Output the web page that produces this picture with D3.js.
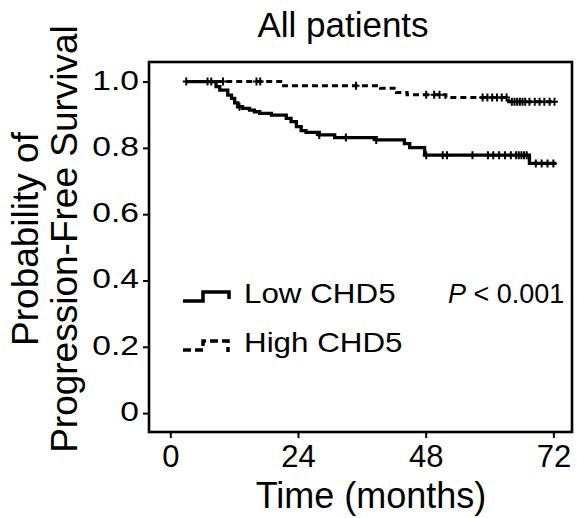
<!DOCTYPE html>
<html>
<head>
<meta charset="utf-8">
<script src="https://d3js.org/d3.v7.min.js"></script>
<style>
  body { margin: 0; background: #fff; }
  text { font-family: "Liberation Sans", Arial, sans-serif; fill: #000; }
</style>
</head>
<body>
<div id="viz-container"></div>
<script>
// Kaplan-Meier steps (time in months, survival after the step)
const lowTimes = [3, 8.6, 9.3, 10.8, 11.5, 12.1, 12.7, 13.6, 14.9, 15.8, 16.8, 19, 21.8, 22.7, 23.7, 24.6, 25.5, 28, 30.9, 38.7, 44, 45, 47.8, 67.5];
const lowSurv = [1.0, 0.985, 0.974, 0.959, 0.949, 0.936, 0.924, 0.919, 0.914, 0.909, 0.904, 0.899, 0.889, 0.879, 0.864, 0.852, 0.847, 0.839, 0.831, 0.824, 0.813, 0.801, 0.778, 0.753];
const lowCensor = [13, 28, 33, 38.7, 48.1, 51.2, 52, 56.8, 59.7, 60.7, 61.8, 62.9, 64, 65, 65.5, 66, 66.5, 67, 68.7, 69.8, 70.9, 72];

const highTimes = [3, 21.3, 39.5, 42.5, 44.5, 51.8, 63.6];
const highSurv = [1.0, 0.987, 0.98, 0.967, 0.96, 0.952, 0.939];
const highCensor = [3, 7, 7.7, 9.9, 16.2, 16.9, 34.9, 48.1, 49.6, 50.6, 58.7, 59.6, 60.5, 61.4, 62.3, 63.2,
  64.2, 64.7, 65.2, 65.7, 66.2, 66.7, 67.5, 68.5, 69.4, 70.3, 71.3, 72.2];

const endTime = 72.5;
const xTicks = [0, 24, 48, 72];
const yTicks = [0, 0.2, 0.4, 0.6, 0.8, 1.0];
const yTickLabels = ["0", "0.2", "0.4", "0.6", "0.8", "1.0"];

const width = 577, height = 518;
const svg = d3.select("#viz-container").append("svg")
  .attr("width", width)
  .attr("height", height);

const x = d3.scaleLinear().domain([-4, 75.5]).range([149, 572]);
const y = d3.scaleLinear().domain([-0.057, 1.059]).range([432, 62]);

function stepPoints(times, surv) {
  const pts = times.map((t, i) => [t, surv[i]]);
  pts.push([endTime, surv[surv.length - 1]]);
  return pts;
}
function survAt(times, surv, t) {
  let s = surv[0];
  times.forEach((tt, i) => { if (tt <= t) s = surv[i]; });
  return s;
}

const line = d3.line()
  .x(d => x(d[0]))
  .y(d => y(d[1]))
  .curve(d3.curveStepAfter);

// curves
svg.append("path")
  .attr("d", line(stepPoints(highTimes, highSurv)))
  .attr("fill", "none")
  .attr("stroke", "#000")
  .attr("stroke-width", 3)
  .attr("stroke-dasharray", "6,4");

svg.append("path")
  .attr("d", line(stepPoints(lowTimes, lowSurv)))
  .attr("fill", "none")
  .attr("stroke", "#000")
  .attr("stroke-width", 3.3);

// censor marks
function drawCensor(times, surv, cens) {
  svg.append("g").selectAll("path")
    .data(cens)
    .enter()
    .append("path")
    .attr("d", t => {
      const cx = x(t), cy = y(survAt(times, surv, t));
      return `M${cx},${cy - 4}V${cy + 4}M${cx - 3.5},${cy}H${cx + 3.5}`;
    })
    .attr("stroke", "#000")
    .attr("stroke-width", 2);
}
drawCensor(highTimes, highSurv, highCensor);
drawCensor(lowTimes, lowSurv, lowCensor);

// frame
svg.append("rect")
  .attr("x", 149).attr("y", 62)
  .attr("width", 572 - 149).attr("height", 432 - 62)
  .attr("fill", "none")
  .attr("stroke", "#000")
  .attr("stroke-width", 2.6);

// x axis
const xAxis = svg.append("g").attr("transform", "translate(0,432)")
  .call(d3.axisBottom(x).tickValues(xTicks).tickSize(6).tickSizeOuter(0));
xAxis.select(".domain").remove();
xAxis.selectAll(".tick line").attr("stroke-width", 2);
xAxis.selectAll(".tick text")
  .attr("y", 35)
  .attr("dy", 0)
  .style("font-size", "31px")
  .style("font-family", "Liberation Sans, Arial, sans-serif");

// y axis
const yAxis = svg.append("g").attr("transform", "translate(149,0)")
  .call(d3.axisLeft(y).tickValues(yTicks).tickSize(6).tickSizeOuter(0)
    .tickFormat((d, i) => yTickLabels[i]));
yAxis.select(".domain").remove();
yAxis.selectAll(".tick line").attr("stroke-width", 2);
yAxis.selectAll(".tick text")
  .attr("x", null)
  .attr("dy", null)
  .attr("transform", "translate(-10,7.5) scale(1.2,1)")
  .style("font-size", "28px")
  .style("font-family", "Liberation Sans, Arial, sans-serif");

// titles
svg.append("text")
  .attr("x", 343).attr("y", 37)
  .attr("text-anchor", "middle")
  .style("font-size", "35px")
  .text("All patients");

svg.append("text")
  .attr("x", 371).attr("y", 508)
  .attr("text-anchor", "middle")
  .style("font-size", "36px")
  .text("Time (months)");

const yTitle = svg.append("text")
  .attr("transform", "translate(38,239) rotate(-90)")
  .attr("text-anchor", "middle")
  .style("font-size", "37px");
yTitle.append("tspan").attr("x", 0).attr("y", 0).text("Probability of");
yTitle.append("tspan").attr("x", 0).attr("y", 39).text("Progression-Free Survival");

// legend
svg.append("path")
  .attr("d", "M183,301H203V292H229V299")
  .attr("fill", "none").attr("stroke", "#000").attr("stroke-width", 3.5);
svg.append("path")
  .attr("d", "M183,350H203V341H228V352")
  .attr("fill", "none").attr("stroke", "#000").attr("stroke-width", 3.5)
  .attr("stroke-dasharray", "8,4");

svg.append("text")
  .attr("transform", "translate(244,303) scale(1.12,1)")
  .style("font-size", "28px")
  .text("Low CHD5");
svg.append("text")
  .attr("transform", "translate(244,352) scale(1.12,1)")
  .style("font-size", "28px")
  .text("High CHD5");

const pText = svg.append("text")
  .attr("x", 448).attr("y", 303)
  .style("font-size", "27px");
pText.append("tspan").style("font-style", "italic").text("P");
pText.append("tspan").text(" < 0.001");
</script>
</body>
</html>
